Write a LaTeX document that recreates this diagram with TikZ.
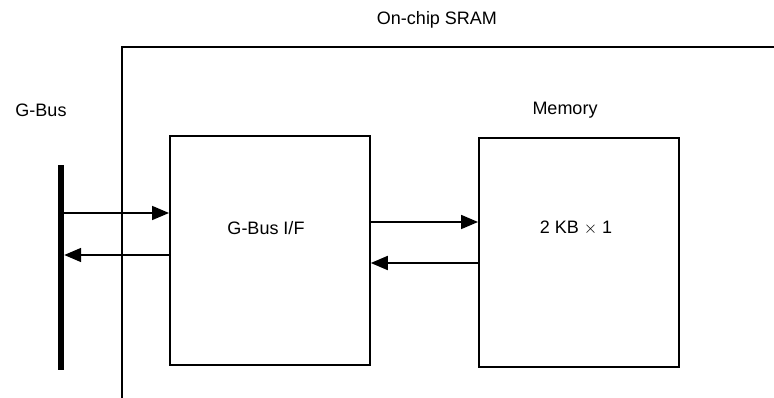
\documentclass[tikz,border=0pt]{standalone}
\usepackage{fontspec}
\setmainfont{Liberation Sans}
\usetikzlibrary{arrows.meta}
\begin{document}
\begin{tikzpicture}[x=1pt,y=-1pt,
  blk/.style={draw, line width=1.8pt, minimum width=200pt, inner sep=0pt, anchor=north west},
  lbl/.style={font=\fontsize{18}{20}\selectfont, inner sep=0pt},
  arr/.style={line width=1.8pt, -{Triangle[length=17pt,width=14pt]}},
  thin/.style={line width=1.8pt}]
\useasboundingbox (0,0) rectangle (774,398);
% SRAM outline
\coordinate (sramtop) at (774,47);
\coordinate (sramcorner) at (122,47);
\coordinate (srambot) at (122,398);
\draw[thin] (sramtop) -- (sramcorner) -- (srambot);
\node[lbl] (sramlbl) at (437,20) {On-chip SRAM};
% G-Bus
\node[fill=black, inner sep=0pt, minimum width=6pt, minimum height=205pt, anchor=north] (bar) at (61,165) {};
\node[lbl] (gbuslbl) at (41,110) {G-Bus};
% blocks
\node[blk, minimum height=229pt] (ifbox) at (169,135) {};
\node[lbl] (iflbl) at (266,228) {G-Bus I/F};
\node[blk, minimum height=229pt] (membox) at (478,137) {};
\node[lbl] (memlbl) at (565,110) {Memory};
\node[lbl] (memtxt) at (576,228) {2 KB $\times$ 1};
% connectors
\draw[arr] (bar.east |- 0,213) -- (ifbox.west |- 0,213);
\draw[arr] (ifbox.west |- 0,255) -- (bar.east |- 0,255);
\draw[arr] (ifbox.east |- 0,222) -- (membox.west |- 0,222);
\draw[arr] (membox.west |- 0,263) -- (ifbox.east |- 0,263);
\end{tikzpicture}
\end{document}
